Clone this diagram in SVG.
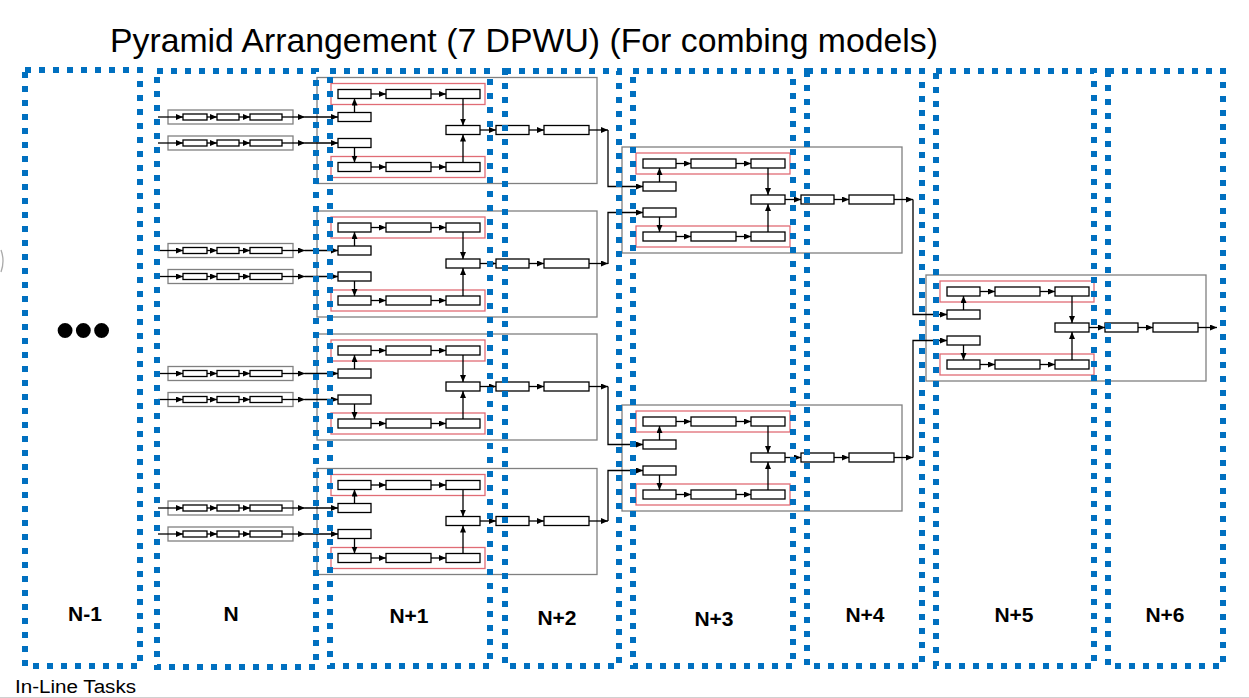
<svg xmlns="http://www.w3.org/2000/svg" xmlns:xlink="http://www.w3.org/1999/xlink" width="1249" height="698" viewBox="0 0 1249 698">
<style>
.col{fill:none;stroke:#0070C0;stroke-width:6;stroke-dasharray:6 8;}
.box{fill:#fff;stroke:#000;stroke-width:1.3;}
.gbox{fill:none;stroke:#808080;stroke-width:1.3;}
.rbox{fill:none;stroke:#E06C75;stroke-width:1.3;}
.ln{fill:none;stroke:#000;stroke-width:1.3;marker-end:url(#ah);}
.pl{fill:none;stroke:#000;stroke-width:1.3;}
.lbl{font-family:"Liberation Sans",Arial,sans-serif;font-weight:bold;font-size:21px;text-anchor:middle;fill:#000;}
.title{font-family:"Liberation Sans",Arial,sans-serif;font-size:33px;fill:#000;}
.note{font-family:"Liberation Sans",Arial,sans-serif;font-size:18px;fill:#000;}
</style>
<defs>
<marker id="ah" markerUnits="userSpaceOnUse" markerWidth="8" markerHeight="7" refX="7" refY="3" orient="auto">
<path d="M0,0 L7,3 L0,6 z" fill="#000"/>
</marker>
<g id="clusterTpl">
<rect class="gbox" x="0" y="0" width="280" height="106"/>
<rect class="rbox" x="14" y="6" width="154" height="21"/>
<rect class="rbox" x="14" y="79" width="154" height="21"/>
<rect class="box" x="21" y="12" width="33" height="9"/>
<rect class="box" x="69" y="12" width="45" height="9"/>
<rect class="box" x="129" y="12" width="34" height="9"/>
<rect class="box" x="21" y="35" width="33" height="9"/>
<rect class="box" x="21" y="61" width="33" height="9"/>
<rect class="box" x="21" y="85" width="33" height="9"/>
<rect class="box" x="69" y="85" width="45" height="9"/>
<rect class="box" x="129" y="85" width="34" height="9"/>
<rect class="box" x="129" y="48" width="34" height="9"/>
<rect class="box" x="179" y="48" width="33" height="9"/>
<rect class="box" x="227" y="48" width="45" height="9"/>
<path class="ln" d="M54,16.5 H69"/>
<path class="ln" d="M114,16.5 H129"/>
<path class="ln" d="M54,89.5 H69"/>
<path class="ln" d="M114,89.5 H129"/>
<path class="ln" d="M37.5,35 V21"/>
<path class="ln" d="M37.5,70 V85"/>
<path class="ln" d="M146,21 V48"/>
<path class="ln" d="M146,85 V57"/>
<path class="ln" d="M163,52.5 H179"/>
<path class="ln" d="M212,52.5 H227"/>
<path class="ln" d="M272,52.5 H291"/>
</g>
<g id="chainTpl">
<rect class="gbox" x="168" y="-7" width="125" height="14"/>
<path class="ln" d="M158,0 H183"/>
<rect class="box" x="183" y="-3" width="24" height="6"/>
<path class="ln" d="M207,0 H217"/>
<rect class="box" x="217" y="-3" width="22" height="6"/>
<path class="ln" d="M239,0 H250"/>
<rect class="box" x="250" y="-3" width="32" height="6"/>
<path class="ln" d="M282,0 H305"/>
</g>
</defs>
<rect width="1249" height="698" fill="#fff"/>
<text class="title" x="110" y="52" textLength="828" lengthAdjust="spacingAndGlyphs">Pyramid Arrangement (7 DPWU) (For combing models)</text>
<path d="M1,250 Q5,261 1,272" fill="none" stroke="#aaa" stroke-width="1.3"/>
<text x="56" y="348" font-family="Liberation Sans, Arial, sans-serif" font-size="52" font-weight="bold" fill="#000">•••</text>
<g id="chains-N">
<g id="chain-1"><use href="#chainTpl" transform="translate(0,117)"/></g>
<g id="chain-2"><use href="#chainTpl" transform="translate(0,143)"/></g>
<g id="chain-3"><use href="#chainTpl" transform="translate(0,250.5)"/></g>
<g id="chain-4"><use href="#chainTpl" transform="translate(0,276.5)"/></g>
<g id="chain-5"><use href="#chainTpl" transform="translate(0,373.5)"/></g>
<g id="chain-6"><use href="#chainTpl" transform="translate(0,399.5)"/></g>
<g id="chain-7"><use href="#chainTpl" transform="translate(0,508)"/></g>
<g id="chain-8"><use href="#chainTpl" transform="translate(0,534)"/></g>
</g>
<g id="cluster-n1-a"><use href="#clusterTpl" transform="translate(317,77.5)"/></g>
<g id="cluster-n1-b"><use href="#clusterTpl" transform="translate(317,211)"/></g>
<g id="cluster-n1-c"><use href="#clusterTpl" transform="translate(317,334)"/></g>
<g id="cluster-n1-d"><use href="#clusterTpl" transform="translate(317,468.5)"/></g>
<g id="cluster-n3-a"><use href="#clusterTpl" transform="translate(622,147)"/></g>
<g id="cluster-n3-b"><use href="#clusterTpl" transform="translate(622,405)"/></g>
<g id="cluster-n5"><use href="#clusterTpl" transform="translate(926,275)"/></g>
<g id="connectors">
<path class="ln" d="M305,117 H338"/>
<path class="ln" d="M305,143 H338"/>
<path class="ln" d="M305,250.5 H338"/>
<path class="ln" d="M305,276.5 H338"/>
<path class="ln" d="M305,373.5 H338"/>
<path class="ln" d="M305,399.5 H338"/>
<path class="ln" d="M305,508 H338"/>
<path class="ln" d="M305,534 H338"/>
<path class="ln" d="M608,130 V186.5 H643"/>
<path class="ln" d="M608,264 V212.5 H643"/>
<path class="ln" d="M608,386.5 V444.5 H643"/>
<path class="ln" d="M608,521 V470.5 H643"/>
<path class="ln" d="M913,199.5 V314.5 H947"/>
<path class="ln" d="M913,457.5 V340.5 H947"/>
</g>
<g id="columns">
<g id="col-n-1"><rect class="col" x="25" y="70" width="115" height="596"/><text class="lbl" x="85" y="621">N-1</text></g>
<g id="col-n"><rect class="col" x="157" y="71" width="159" height="596"/><text class="lbl" x="231" y="621">N</text></g>
<g id="col-n1"><rect class="col" x="330" y="71" width="160" height="595"/><text class="lbl" x="409" y="623">N+1</text></g>
<g id="col-n2"><rect class="col" x="505" y="71" width="114" height="595"/><text class="lbl" x="557" y="625">N+2</text></g>
<g id="col-n3"><rect class="col" x="633" y="71" width="160" height="595"/><text class="lbl" x="714" y="626">N+3</text></g>
<g id="col-n4"><rect class="col" x="807" y="71" width="115" height="595"/><text class="lbl" x="865" y="622">N+4</text></g>
<g id="col-n5"><rect class="col" x="936" y="71" width="158" height="595"/><text class="lbl" x="1014" y="622">N+5</text></g>
<g id="col-n6"><rect class="col" x="1108" y="71" width="115" height="595"/><text class="lbl" x="1165" y="622">N+6</text></g>
</g>
<text class="note" x="15" y="693" textLength="121" lengthAdjust="spacingAndGlyphs">In-Line Tasks</text>
<line x1="0" y1="697.5" x2="1249" y2="697.5" stroke="#d0d0d0" stroke-width="1"/>
</svg>
